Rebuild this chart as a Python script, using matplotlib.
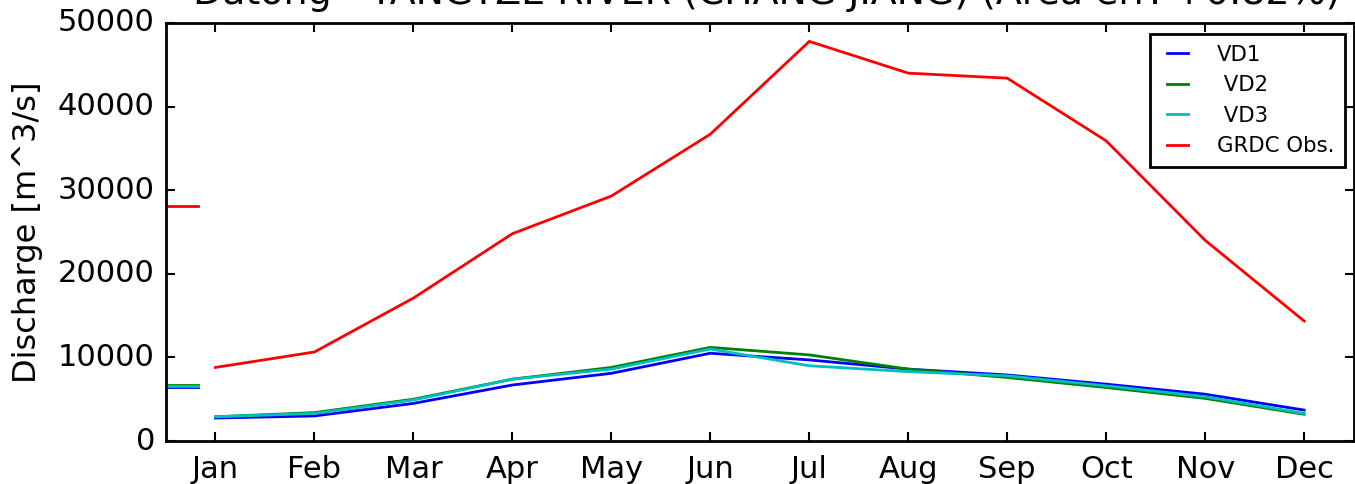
import matplotlib
matplotlib.use('Agg')
import matplotlib.pyplot as plt
import numpy as np

months = ['Jan', 'Feb', 'Mar', 'Apr', 'May', 'Jun', 'Jul', 'Aug', 'Sep', 'Oct', 'Nov', 'Dec']
vd1 = [2750, 3000, 4500, 6700, 8100, 10500, 9700, 8600, 7900, 6800, 5600, 3700]
vd2 = [2900, 3400, 5000, 7400, 8800, 11200, 10300, 8600, 7600, 6400, 5100, 3200]
vd3 = [2900, 3300, 4900, 7400, 8600, 11000, 9000, 8300, 7800, 6600, 5300, 3300]
grdc = [8800, 10650, 17100, 24800, 29300, 36700, 47800, 44000, 43400, 35900, 24000, 14350]
title = 'Datong - YANGTZE RIVER (CHANG JIANG) (Area err: +0.82%)'

plt.style.use('classic')
fig = plt.figure(figsize=(13.55, 4.84), dpi=100)
fig.patch.set_facecolor('white')
ax = fig.add_axes([0.1225, 0.0888, 0.8765, 0.8637])

x = np.arange(1, 13)
series = [(vd1, 'b', 'VD1'), (vd2, 'g', ' VD2'), (vd3, 'c', ' VD3'), (grdc, 'r', 'GRDC Obs.')]
for vals, col, lab in series:
    ax.plot(x, vals, color=col, lw=2, label=lab)

# annual means as short marks at the left edge
for vals, col, lab in series:
    m = np.mean(vals)
    ax.plot([0.5, 0.82], [m, m], color=col, lw=2)

ax.set_xlim(0.5, 12.5)
ax.set_ylim(0, 50000)
ax.set_xticks(x)
ax.set_xticklabels(months)
ax.set_yticks([0, 10000, 20000, 30000, 40000, 50000])
ax.tick_params(labelsize=22, length=6.5, width=1.5, pad=8)
ax.tick_params(axis='x', pad=10)
for s in ax.spines.values():
    s.set_linewidth(2)

ax.set_ylabel('Discharge [m^3/s]', fontsize=23, labelpad=11)
# title sits partly outside the figure, as in the original
ax.set_title(title, fontsize=27.3, x=0.5059, y=1.0287, va='baseline')

leg = ax.legend(loc='upper right', bbox_to_anchor=(0.9927, 0.9737), borderaxespad=0,
                fontsize=15.3, labelspacing=0.5, handlelength=1.6,
                handletextpad=1.05, borderpad=0.5)
leg.get_frame().set_linewidth(2)

plt.savefig('out.png', dpi=100, facecolor='white')
